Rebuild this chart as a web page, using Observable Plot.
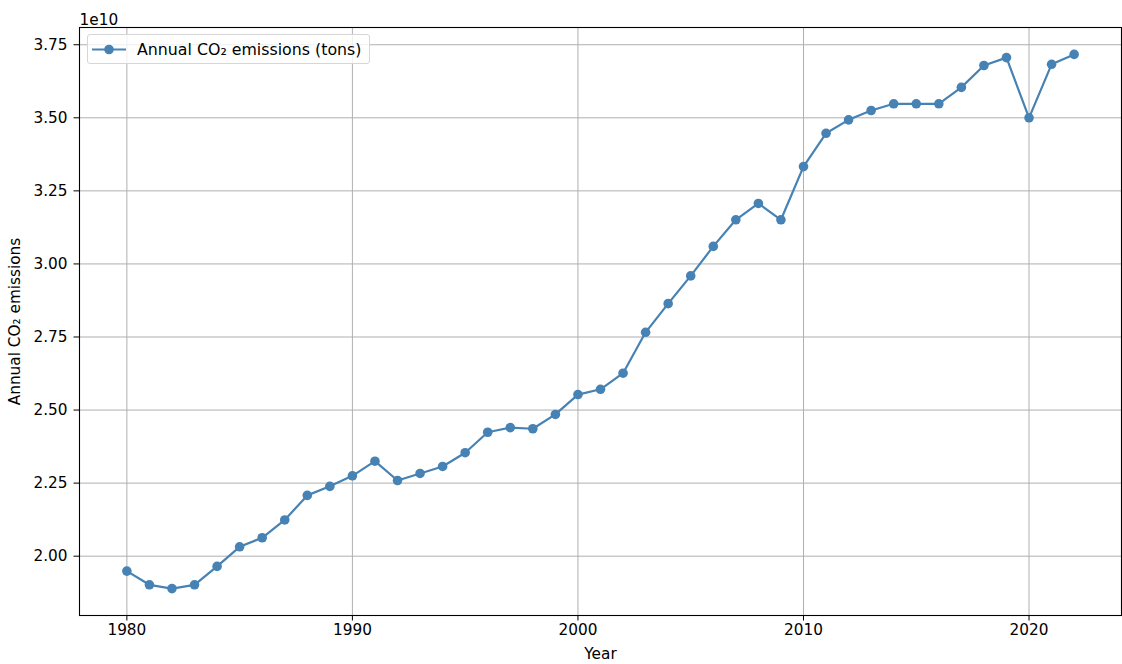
<!DOCTYPE html>
<html>
<head>
<meta charset="utf-8">
<script src="https://cdn.jsdelivr.net/npm/d3@7"></script>
<script src="https://cdn.jsdelivr.net/npm/@observablehq/plot@0.6"></script>
<style>
  html, body { margin: 0; padding: 0; background: #fff; }
  #wrap { position: relative; width: 1122px; height: 664px; font-family: "DejaVu Sans", sans-serif; }
  #legend {
    position: absolute; left: 87px; top: 34px; width: 281px; height: 28px;
    border: 1px solid #d6d6d6; border-radius: 3px; background: rgba(255,255,255,0.8);
    font-size: 15.8px; color: #000; box-sizing: content-box;
  }
  #legend svg { position: absolute; left: 3px; top: 0; }
  #legend span { position: absolute; left: 49px; top: 5px; white-space: nowrap; }
</style>
</head>
<body>
<div id="wrap"><div id="legend"></div></div>
<script>
const years = [1980,1981,1982,1983,1984,1985,1986,1987,1988,1989,
               1990,1991,1992,1993,1994,1995,1996,1997,1998,1999,
               2000,2001,2002,2003,2004,2005,2006,2007,2008,2009,
               2010,2011,2012,2013,2014,2015,2016,2017,2018,2019,
               2020,2021,2022];
// Annual CO2 emissions, in units of 1e10 tons
const emissions = [1.949,1.902,1.889,1.902,1.965,2.032,2.063,2.124,2.208,2.239,
                   2.275,2.325,2.259,2.283,2.307,2.354,2.424,2.440,2.436,2.485,
                   2.553,2.571,2.626,2.766,2.864,2.959,3.060,3.151,3.207,3.151,
                   3.333,3.447,3.493,3.525,3.548,3.548,3.548,3.604,3.679,3.706,
                   3.500,3.683,3.717];
const xTicks = [1980, 1990, 2000, 2010, 2020];
const yTicks = [2.00, 2.25, 2.50, 2.75, 3.00, 3.25, 3.50, 3.75];
const seriesName = "Annual CO\u2082 emissions (tons)";
const yLabel = "Annual CO\u2082 emissions";
const xLabel = "Year";
const offsetText = "1e10";

const data = years.map((y, i) => ({year: y, value: emissions[i] * 1e10}));
const color = "#4682b4";
const fs = 15.3;

const chart = Plot.plot({
  width: 1122,
  height: 664,
  marginLeft: 79,
  marginRight: 1,
  marginTop: 27,
  marginBottom: 49,
  style: {fontFamily: "DejaVu Sans, sans-serif", fontSize: fs + "px", color: "#000", background: "#fff"},
  x: {
    domain: [1977.9, 2024.1],
    ticks: xTicks,
    tickFormat: d => String(d),
    tickSize: 5.5,
    tickPadding: 3,
    label: xLabel,
    labelAnchor: "center",
    labelArrow: "none",
    labelOffset: 43
  },
  y: {
    domain: [1.797e10, 3.809e10],
    ticks: yTicks.map(t => t * 1e10),
    tickFormat: d => (d / 1e10).toFixed(2),
    tickSize: 5.5,
    tickPadding: 6.5,
    label: yLabel,
    labelAnchor: "center",
    labelArrow: "none",
    labelOffset: 70
  },
  marks: [
    Plot.gridX(xTicks, {stroke: "#b0b0b0", strokeOpacity: 1, strokeWidth: 1}),
    Plot.gridY(yTicks.map(t => t * 1e10), {stroke: "#b0b0b0", strokeOpacity: 1, strokeWidth: 1}),
    Plot.line(data, {x: "year", y: "value", stroke: color, strokeWidth: 2.2}),
    Plot.dot(data, {x: "year", y: "value", fill: color, r: 4.8}),
    Plot.frame({stroke: "#000", strokeWidth: 1.1}),
    Plot.text([offsetText], {frameAnchor: "top-left", text: d => d, dy: -13, textAnchor: "start", fontSize: fs})
  ]
});

document.getElementById("wrap").prepend(chart);

const leg = document.getElementById("legend");
leg.innerHTML = `<svg width="40" height="28"><line x1="1" x2="35" y1="14.5" y2="14.5" stroke="${color}" stroke-width="2.2"/><circle cx="18" cy="14.5" r="4.8" fill="${color}"/></svg><span>${seriesName}</span>`;
</script>
</body>
</html>
